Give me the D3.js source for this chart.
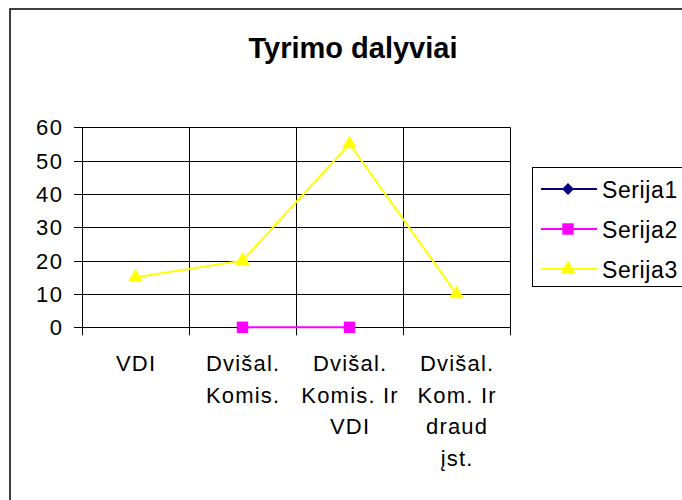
<!DOCTYPE html>
<html>
<head>
<meta charset="utf-8">
<script src="https://cdn.jsdelivr.net/npm/d3@7"></script>
<style>
html,body{margin:0;padding:0;background:#fff;}
svg{display:block;font-family:"Liberation Sans",Arial,sans-serif;}
</style>
</head>
<body>
<svg id="chart" width="682" height="500"></svg>
<script>
const title = "Tyrimo dalyviai";
const categories = [["VDI"], ["Dvišal.", "Komis."], ["Dvišal.", "Komis. Ir", "VDI"], ["Dvišal.", "Kom. Ir", "draud", "įst."]];
const yTicks = [0, 10, 20, 30, 40, 50, 60];
const seriesNames = ["Serija1", "Serija2", "Serija3"];
const serija1 = [null, null, null, null];
const serija2 = [null, 0, 0, null];
const serija3 = [15, 20, 55, 10];
const seriesColors = ["#000080", "#FF00FF", "#FFFF00"];
const seriesMarkers = ["diamond", "square", "triangle"];

const svg = d3.select("#chart");
const plot = {left: 82, right: 510, top: 127.3, bottom: 327.3};

// outer border
svg.append("rect").attr("x", 10).attr("y", 9).attr("width", 700).attr("height", 520)
  .attr("fill", "#fff").attr("stroke", "#000").attr("stroke-width", 1.5);

// title
svg.append("text").attr("x", 353).attr("y", 57.5).attr("text-anchor", "middle")
  .attr("font-size", 29).attr("font-weight", "bold").text(title);

const idx = d3.range(categories.length);
const x = d3.scaleBand().domain(idx).range([plot.left, plot.right]).padding(0);
const y = d3.scaleLinear().domain([0, 60]).range([plot.bottom, plot.top]);

// horizontal gridlines
svg.append("g").selectAll("line").data(yTicks).join("line")
  .attr("x1", plot.left - 8).attr("x2", plot.right)
  .attr("y1", d => Math.round(y(d)) + 0.5).attr("y2", d => Math.round(y(d)) + 0.5)
  .attr("stroke", "#000").attr("stroke-width", 1);

// vertical gridlines (category boundaries)
const bounds = idx.map(i => x(i)).concat([plot.right]);
svg.append("g").selectAll("line").data(bounds).join("line")
  .attr("x1", d => Math.round(d) + 0.5).attr("x2", d => Math.round(d) + 0.5)
  .attr("y1", plot.top).attr("y2", plot.bottom + 8)
  .attr("stroke", "#000").attr("stroke-width", 1);

// y tick labels
svg.append("g").selectAll("text").data(yTicks).join("text")
  .attr("x", 63.5).attr("y", d => y(d) + 8).attr("text-anchor", "end")
  .attr("font-size", 22).attr("letter-spacing", 1.5).text(d => d);

// x labels
const xl = svg.append("g").selectAll("text").data(categories).join("text")
  .attr("text-anchor", "middle").attr("font-size", 22).attr("letter-spacing", 1.2);
xl.each(function(lines, i) {
  d3.select(this).selectAll("tspan").data(lines).join("tspan")
    .attr("x", x(i) + x.bandwidth() / 2 + 0.6)
    .attr("y", (d, j) => 371 + j * 31.7)
    .text(d => d);
});

const diamondPath = d3.symbol().type({draw(ctx, size) { const r = Math.sqrt(size / 2); ctx.moveTo(0, -r); ctx.lineTo(r, 0); ctx.lineTo(0, r); ctx.lineTo(-r, 0); ctx.closePath(); }});
const symbolFor = m => m === "diamond" ? diamondPath.type() : m === "square" ? d3.symbolSquare : d3.symbolTriangle;
const symbolSize = m => m === "diamond" ? 72 : m === "square" ? 130 : 95;

const allSeries = [serija1, serija2, serija3];
const line = d3.line().defined(d => d.v !== null).x(d => x(d.i) + x.bandwidth() / 2).y(d => y(d.v));

allSeries.forEach((vals, s) => {
  const pts = vals.map((v, i) => ({i, v}));
  svg.append("path").datum(pts).attr("d", line).attr("fill", "none")
    .attr("stroke", seriesColors[s]).attr("stroke-width", 2);
  svg.append("g").selectAll("path").data(pts.filter(d => d.v !== null)).join("path")
    .attr("d", d3.symbol().type(symbolFor(seriesMarkers[s])).size(symbolSize(seriesMarkers[s])))
    .attr("transform", d => `translate(${x(d.i) + x.bandwidth() / 2},${y(d.v)})`)
    .attr("fill", seriesColors[s]);
});

// legend
svg.append("rect").attr("x", 532.5).attr("y", 167.5).attr("width", 160).attr("height", 119)
  .attr("fill", "#fff").attr("stroke", "#000").attr("stroke-width", 1);
const lg = svg.append("g").selectAll("g").data(seriesNames).join("g")
  .attr("transform", (d, i) => `translate(0,${189 + i * 40})`);
lg.append("line").attr("x1", 541).attr("x2", 597).attr("y1", 0).attr("y2", 0)
  .attr("stroke", (d, i) => seriesColors[i]).attr("stroke-width", 2);
lg.append("path")
  .attr("d", (d, i) => d3.symbol().type(symbolFor(seriesMarkers[i])).size(symbolSize(seriesMarkers[i]))())
  .attr("transform", "translate(568,0)")
  .attr("fill", (d, i) => seriesColors[i]);
lg.append("text").attr("x", 602).attr("y", 8.5).attr("font-size", 23).attr("letter-spacing", 0.6).text(d => d);
</script>
</body>
</html>
